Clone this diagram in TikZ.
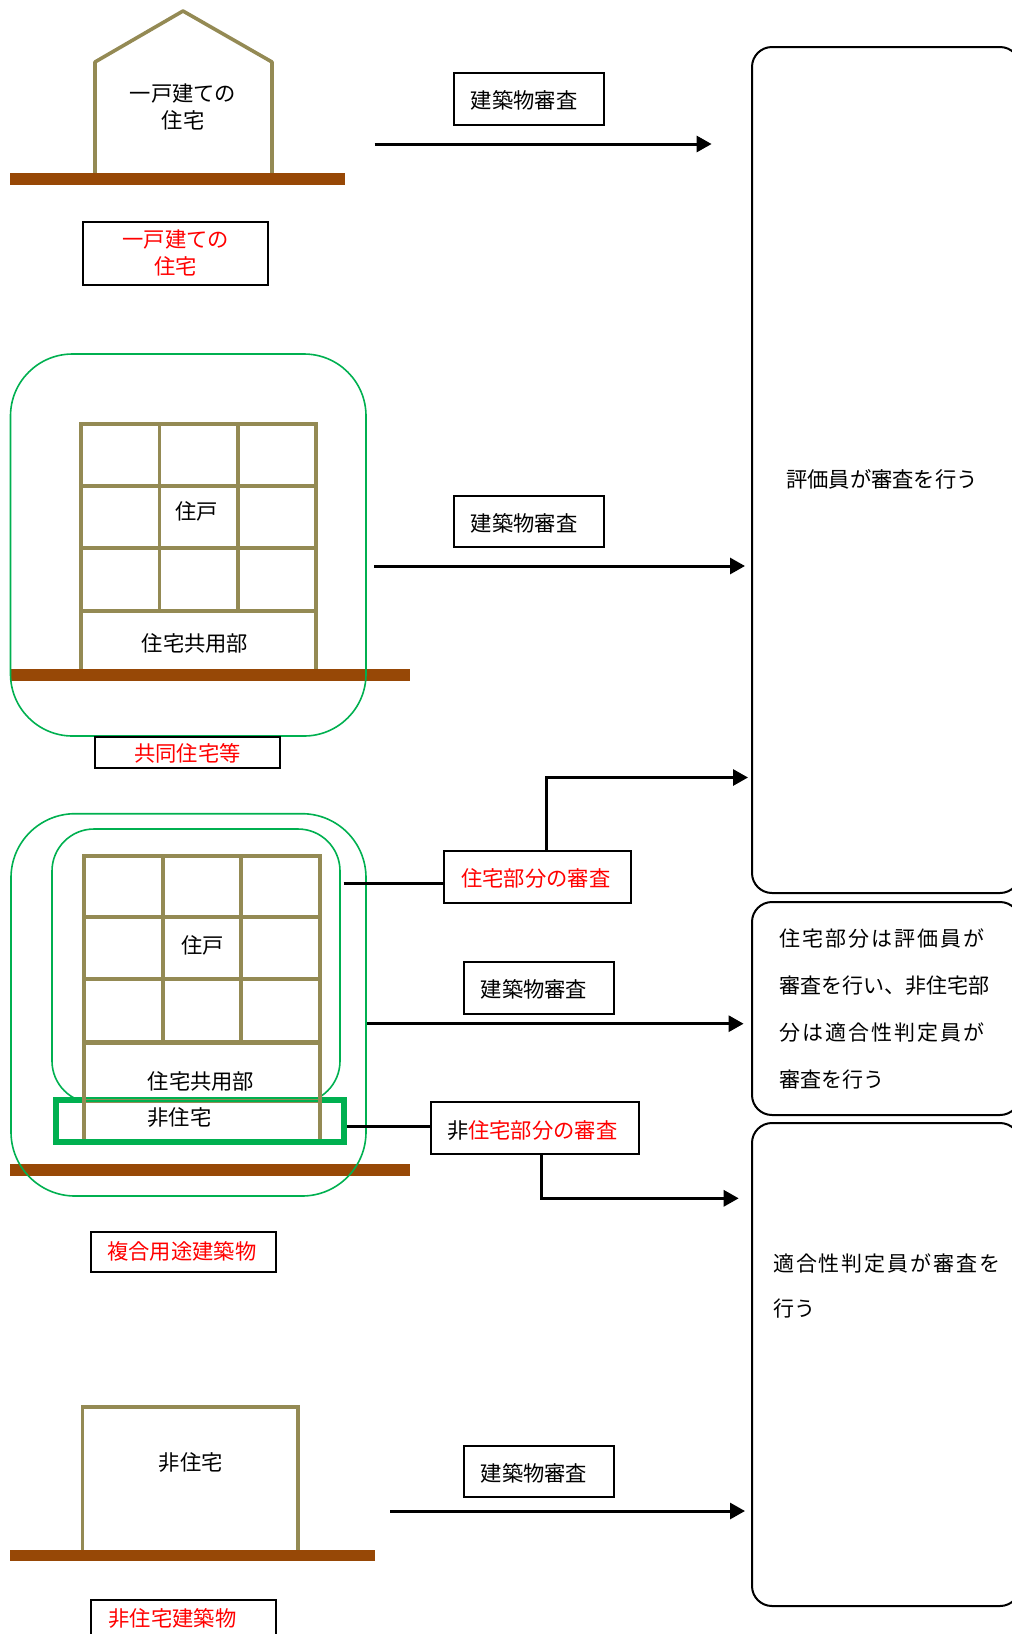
\documentclass[tikz,border=0pt]{standalone}
\usepackage{fontspec}
\setmainfont{Noto Sans CJK JP}
\usetikzlibrary{arrows.meta}
\definecolor{wall}{HTML}{948A54}
\definecolor{soil}{HTML}{974806}
\definecolor{zone}{HTML}{00B050}
\tikzset{
  txt/.style={inner sep=0pt,font=\fontsize{21.3}{27}\selectfont,align=center},
  labelbox/.style={txt,draw=black,line width=2pt,fill=white},
  oneline/.style={text height=21pt,text depth=2pt},
  redtxt/.style={text=red},
  panel/.style={txt,draw=black,line width=2pt,rounded corners=20pt},
  wallline/.style={draw=wall,line width=3.6pt},
  ground/.style={fill=soil,draw=none},
  zoneline/.style={draw=zone,line width=1.6pt},
  link/.style={draw=black,line width=3pt},
  arrowline/.style={link,-{Triangle[length=15pt,width=16pt]}},
}
\begin{document}
\begin{tikzpicture}[x=1pt,y=-1pt]
\useasboundingbox (0,0) rectangle (1012,1634);
% ---------- right panels
\begin{scope}
\clip (0,0) rectangle (1012,1634);
\node[panel,minimum width=268pt,minimum height=846pt] (p1) at (886,470) {};
\node[panel,minimum width=268pt,minimum height=213pt,text width=214pt,inner xsep=27pt,align=left,font=\fontsize{21}{47}\selectfont] (p2) at (886,1008.5)
  {{\addfontfeature{LetterSpace=10}住宅部分は評価員が}\\審査を行い、非住宅部\\{\addfontfeature{LetterSpace=10}分は適合性判定員が}\\審査を行う};
\node[panel,minimum width=268pt,minimum height=483pt] (p3) at (886,1364.5) {};
\end{scope}
\node[txt] (p1t) at (882,479) {評価員が審査を行う};
\node[txt,anchor=west,align=left,font=\fontsize{21}{45}\selectfont] (p3t) at (773,1286) {{\addfontfeature{LetterSpace=9}適合性判定員が審査を}\\行う};
% ---------- house
\draw[wallline,line join=round] (95,173) -- (95,62) -- (183,11) -- (272,62) -- (272,173);
\fill[ground] (10,173) rectangle (345,185);
\node[txt] (h) at (183,107) {一戸建ての\\住宅};
\node[labelbox,redtxt,minimum width=185.5pt,minimum height=63pt] (hl) at (175.7,253.3) {一戸建ての\\住宅};
\node[labelbox,oneline,minimum width=149.5pt,minimum height=52pt] (r1) at (529.2,99.2) {\hspace{-10pt}建築物審査};
\coordinate (a1s) at (374.7,144);
\coordinate (a1e) at (711.6,144);
\draw[arrowline] (a1s) -- (a1e);
% ---------- apartment
\fill[ground] (10,669) rectangle (410,680.5);
\draw[wallline] (81,669) -- (81,424) -- (316,424) -- (316,669);
\draw[wallline] (81,486) -- (316,486) (81,548) -- (316,548) (81,611) -- (316,611);
\draw[wallline] (159.5,424) -- (159.5,611) (238,424) -- (238,611);
\draw[zoneline,rounded corners=62pt] (188,354) -- (366,354) -- (366,736) -- (10.5,736) -- (10.5,354) -- cycle;
\node[txt] (a1) at (196.5,511) {住戸};
\node[txt] (a2) at (195,643.5) {住宅共用部};
\node[labelbox,oneline,redtxt,minimum width=185pt,minimum height=31pt] (al) at (187.5,752) {共同住宅等};
\node[labelbox,oneline,minimum width=149.5pt,minimum height=51pt] (r2) at (529.2,521.5) {\hspace{-10pt}建築物審査};
\coordinate (a2s) at (374,566);
\coordinate (a2e) at (745,566);
\draw[arrowline] (a2s) -- (a2e);
% ---------- mixed use
\fill[ground] (10,1164) rectangle (410,1176);
\draw[zoneline,rounded corners=64pt] (188,813.7) -- (366,813.7) -- (366,1196) -- (11,1196) -- (11,813.7) -- cycle;
\draw[zoneline,rounded corners=42pt] (196,829) -- (340,829) -- (340,1103) -- (52,1103) -- (52,829) -- cycle;
\draw[draw=zone,fill=white,line width=5.6pt] (56,1100) rectangle (344,1142);
\draw[wallline] (84,1139) -- (84,856) -- (320,856) -- (320,1139);
\draw[wallline] (84,916.7) -- (320,916.7) (84,979) -- (320,979);
\draw[draw=wall,line width=5pt] (84,1042) -- (320,1042);
\draw[draw=wall,line width=1.4pt] (84,1099.3) -- (320,1099.3) (84,1102.3) -- (320,1102.3);
\draw[wallline] (163,856) -- (163,1042) (241,856) -- (241,1042);
\node[txt] (m1) at (202.6,945) {住戸};
\node[txt] (m2) at (201,1081.7) {住宅共用部};
\node[txt] (m3) at (179.4,1117) {非住宅};
\node[labelbox,oneline,redtxt,minimum width=186.5pt,minimum height=52pt] (rh) at (537.4,877.2) {\hspace{-3pt}住宅部分の審査};
\node[labelbox,oneline,minimum width=150pt,minimum height=51.7pt] (r3) at (539,987.7) {\hspace{-10pt}建築物審査};
\node[labelbox,redtxt,minimum width=208.4pt,minimum height=51.7pt,text height=22pt,text depth=1pt] (rn) at (534.7,1127.7) {\hspace{-5pt}{\color{black}非}住宅部分の審査};
\node[labelbox,redtxt,minimum width=184.7pt,minimum height=40pt,text height=18.5pt,text depth=3.5pt] (ml) at (183.4,1251.8) {\hspace{-3pt}複合用途建築物};
\coordinate (c1) at (343.7,883);
\coordinate (c2) at (347,1126.7);
\coordinate (t1) at (748,777.5);
\coordinate (t2) at (738.7,1198.3);
\coordinate (a3s) at (367,1023.7);
\coordinate (a3e) at (743.6,1023.7);
\draw[link] (c1) -- (c1 -| rh.west);
\draw[link] (c2) -- (c2 -| rn.west);
\draw[arrowline] ([xshift=9pt]rh.north) |- (t1);
\draw[arrowline] ([xshift=6.7pt]rn.south) |- (t2);
\draw[arrowline] (a3s) -- (a3e);
% ---------- non residential
\fill[ground] (10,1550) rectangle (375,1560.5);
\draw[wallline] (82.5,1550) -- (82.5,1407) -- (298,1407) -- (298,1550);
\node[txt] (n1) at (190.7,1462) {非住宅};
\node[labelbox,oneline,minimum width=150pt,minimum height=51.5pt] (r4) at (539,1471.7) {\hspace{-10pt}建築物審査};
\node[labelbox,oneline,redtxt,minimum width=184.7pt,minimum height=35pt] (nl) at (183.4,1617) {\hspace{-22pt}非住宅建築物};
\coordinate (a4s) at (390,1511);
\coordinate (a4e) at (745,1511);
\draw[arrowline] (a4s) -- (a4e);
\end{tikzpicture}
\end{document}
